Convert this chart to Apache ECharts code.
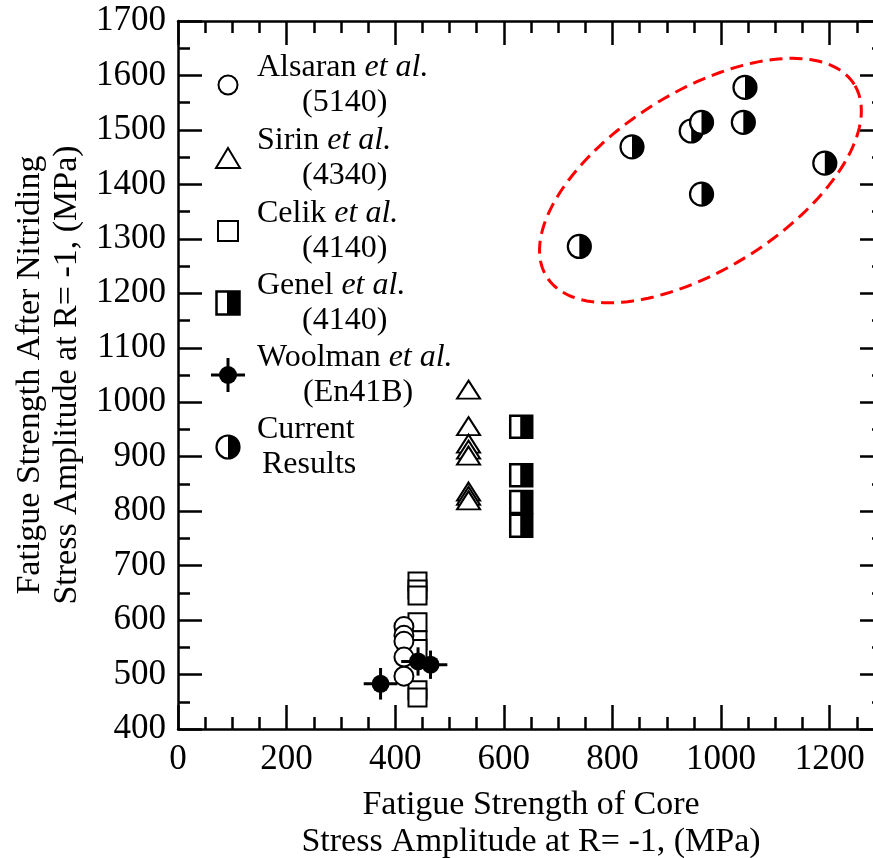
<!DOCTYPE html>
<html>
<head>
<meta charset="utf-8">
<script src="https://cdn.jsdelivr.net/npm/echarts@6/dist/echarts.min.js"></script>
<style>
  html, body { margin: 0; padding: 0; background: #fff; }
  #chart { width: 873px; height: 858px; }
</style>
</head>
<body>
<div id="chart"></div>
<script>
// Alsaran et al. (5140)
const alsaranX = [416, 416, 416, 416, 416];
const alsaranY = [588, 572, 561, 532, 497];
// Sirin et al. (4340)
const sirinX = [535, 535, 535, 535, 535, 535, 535, 535];
const sirinY = [1023, 956, 924, 913, 902, 836, 828, 820];
// Celik et al. (4140)
const celikX = [441, 441, 441, 441, 441, 441, 441, 441];
const celikY = [671, 656, 645, 596, 563, 547, 471, 458];
// Genel et al. (4140)
const genelX = [632, 632, 632, 632];
const genelY = [955, 866, 817, 773];
// Woolman et al. (En41B), with error bars
const woolmanX = [373, 442, 465];
const woolmanY = [483, 524, 518];
const woolmanErrX = [31, 31, 31];
const woolmanErrY = [29, 26, 26];
// Current results
const currentX = [739, 836, 945, 964, 964, 1041, 1044, 1191];
const currentY = [1286, 1469, 1498, 1514, 1382, 1514, 1578, 1439];
// dashed ellipse around current results (centre, semi axes in x units, tilt in degrees)
const ellipseCentre = [962, 1407];
const ellipseAxes = [334, 164];
const ellipseTilt = 32;

const FONT = 'Liberation Serif';
const zip = (xs, ys) => xs.map((x, i) => [x, ys[i]]);

function renderEllipse(params, api) {
  const c = api.coord([api.value(0), api.value(1)]);
  const k = api.size([1, 0])[0];
  const a = ellipseAxes[0] * k, b = ellipseAxes[1] * k;
  const t = ellipseTilt * Math.PI / 180;
  const pts = [];
  for (let i = 0; i <= 180; i++) {
    const u = i / 180 * 2 * Math.PI;
    const ex = a * Math.cos(u), ey = b * Math.sin(u);
    pts.push([c[0] + ex * Math.cos(t) - ey * Math.sin(t), c[1] - (ex * Math.sin(t) + ey * Math.cos(t))]);
  }
  return {
    type: 'polyline',
    shape: { points: pts },
    style: { fill: 'none', stroke: '#ff0000', lineWidth: 3, lineDash: [13, 7] }
  };
}

function halfCircle(cx, cy, r) {
  return [
    { type: 'circle', shape: { cx: cx, cy: cy, r: r }, style: { fill: '#fff', stroke: '#000', lineWidth: 2.2 } },
    { type: 'sector', shape: { cx: cx, cy: cy, r0: 0, r: r, startAngle: -Math.PI / 2, endAngle: Math.PI / 2 }, style: { fill: '#000' } }
  ];
}
function halfSquare(cx, cy, s) {
  return [
    { type: 'rect', shape: { x: cx - s / 2, y: cy - s / 2, width: s, height: s }, style: { fill: '#fff', stroke: '#000', lineWidth: 2.5 } },
    { type: 'rect', shape: { x: cx - 1, y: cy - s / 2, width: s / 2 + 1, height: s }, style: { fill: '#000' } }
  ];
}
function woolmanMark(cx, cy, l, r, t, b, rad) {
  return [
    { type: 'line', shape: { x1: l, y1: cy, x2: r, y2: cy }, style: { stroke: '#000', lineWidth: 3 } },
    { type: 'line', shape: { x1: cx, y1: t, x2: cx, y2: b }, style: { stroke: '#000', lineWidth: 3 } },
    { type: 'circle', shape: { cx: cx, cy: cy, r: rad }, style: { fill: '#000' } }
  ];
}

function renderCurrent(params, api) {
  const p = api.coord([api.value(0), api.value(1)]);
  return { type: 'group', children: halfCircle(p[0], p[1], 11.5) };
}
function renderGenel(params, api) {
  const p = api.coord([api.value(0), api.value(1)]);
  return { type: 'group', children: halfSquare(p[0], p[1], 22) };
}
function renderWoolman(params, api) {
  const x = api.value(0), y = api.value(1), ex = api.value(2), ey = api.value(3);
  const c = api.coord([x, y]);
  const l = api.coord([x - ex, y]), r = api.coord([x + ex, y]);
  const t = api.coord([x, y + ey]), b = api.coord([x, y - ey]);
  return { type: 'group', children: woolmanMark(c[0], c[1], l[0], r[0], t[1], b[1], 9) };
}

// legend block (drawn inside the plot)
const legendRows = [
  { name: 'Alsaran ', tail: '(5140)', tailX: 302 },
  { name: 'Sirin ', tail: '(4340)', tailX: 302 },
  { name: 'Celik ', tail: '(4140)', tailX: 302 },
  { name: 'Genel ', tail: '(4140)', tailX: 302 },
  { name: 'Woolman ', tail: '(En41B)', tailX: 303 },
  { name: 'Current', tail: 'Results', tailX: 262, plain: true }
];
const legendY = [85, 158, 231, 303, 375, 447];
const legendSymX = 228;

const graphics = [];
legendRows.forEach((row, i) => {
  const y = legendY[i];
  graphics.push({
    type: 'text', x: 257, y: y - 17, silent: true,
    style: {
      text: row.plain ? row.name : row.name + '{i|et al.}',
      fontFamily: FONT, fontSize: 32, fill: '#000',
      align: 'left', verticalAlign: 'middle',
      rich: { i: { fontFamily: FONT, fontSize: 32, fontStyle: 'italic', fill: '#000' } }
    }
  });
  graphics.push({
    type: 'text', x: row.tailX, y: y + 18, silent: true,
    style: { text: row.tail, fontFamily: FONT, fontSize: 32, fill: '#000', align: 'left', verticalAlign: 'middle' }
  });
});
const sx = legendSymX;
graphics.push({ type: 'circle', silent: true, shape: { cx: sx, cy: legendY[0], r: 9.5 }, style: { fill: '#fff', stroke: '#000', lineWidth: 2 } });
graphics.push({ type: 'polygon', silent: true, shape: { points: [[sx, legendY[1] - 10], [sx + 12, legendY[1] + 10], [sx - 12, legendY[1] + 10]] }, style: { fill: '#fff', stroke: '#000', lineWidth: 2 } });
graphics.push({ type: 'rect', silent: true, shape: { x: sx - 10, y: legendY[2] - 10, width: 20, height: 20 }, style: { fill: '#fff', stroke: '#000', lineWidth: 2 } });
graphics.push({ type: 'group', silent: true, children: halfSquare(sx, legendY[3], 23) });
graphics.push({ type: 'group', silent: true, children: woolmanMark(sx, legendY[4], sx - 17, sx + 17, legendY[4] - 17, legendY[4] + 17, 9) });
graphics.push({ type: 'group', silent: true, children: halfCircle(sx, legendY[5], 11.5) });

const axisLine = { show: true, onZero: false, lineStyle: { color: '#000', width: 2.5 } };
const tickStyle = { color: '#000', width: 2.5 };
const labelStyle = { color: '#000', fontFamily: FONT, fontSize: 35, formatter: v => String(v) };
const nameStyle = { color: '#000', fontFamily: FONT, fontSize: 34, lineHeight: 37 };

function xAx(pos, interval, len, extra) {
  return Object.assign({
    type: 'value', position: pos, min: 0, max: 1300, interval: interval,
    axisLine: len === 24 ? axisLine : { show: false },
    axisTick: { show: true, inside: true, length: len, lineStyle: tickStyle },
    axisLabel: { show: false },
    splitLine: { show: false }
  }, extra || {});
}

const chart = echarts.init(document.getElementById('chart'), null, { renderer: 'canvas' });
chart.setOption({
  animation: false,
  backgroundColor: '#fff',
  grid: { left: 178, top: 21, right: -11, bottom: 129, containLabel: false, outerBoundsMode: 'none' },
  xAxis: [
    xAx('bottom', 200, 24, {
      axisLabel: Object.assign({ show: true, margin: 13, showMaxLabel: false }, labelStyle),
      name: 'Fatigue Strength of Core\nStress Amplitude at R= -1, (MPa)',
      nameLocation: 'middle', nameGap: 58, nameTextStyle: nameStyle
    }),
    xAx('bottom', 50, 12),
    xAx('top', 200, 24),
    xAx('top', 50, 12)
  ],
  yAxis: [
    {
      type: 'value', position: 'left', min: 400, max: 1700, interval: 100,
      axisLine: axisLine,
      axisTick: { inside: true, length: 24, lineStyle: tickStyle },
      minorTick: { show: true, splitNumber: 2, length: 12, lineStyle: tickStyle },
      axisLabel: Object.assign({ margin: 12 }, labelStyle),
      splitLine: { show: false },
      name: 'Fatigue Strength After Nitriding\nStress Amplitude at R= -1, (MPa)',
      nameLocation: 'middle', nameGap: 88, nameRotate: 90, nameTextStyle: nameStyle
    },
    {
      type: 'value', position: 'right', min: 400, max: 1700, interval: 100,
      axisLine: axisLine,
      axisTick: { inside: true, length: 24, lineStyle: tickStyle },
      minorTick: { show: true, splitNumber: 2, length: 12, lineStyle: tickStyle },
      axisLabel: { show: false },
      splitLine: { show: false }
    }
  ],
  graphic: graphics,
  series: [
    {
      name: 'ellipse', type: 'custom', silent: true, renderItem: renderEllipse,
      data: [ellipseCentre], z: 1
    },
    {
      name: 'Celik et al. (4140)', type: 'scatter', symbol: 'rect', symbolSize: 18,
      itemStyle: { color: '#fff', borderColor: '#000', borderWidth: 2, opacity: 1 },
      data: zip(celikX, celikY), z: 2, silent: true
    },
    {
      name: 'Alsaran et al. (5140)', type: 'scatter', symbol: 'circle', symbolSize: 19,
      itemStyle: { color: '#fff', borderColor: '#000', borderWidth: 2, opacity: 1 },
      data: zip(alsaranX, alsaranY), z: 3, silent: true
    },
    {
      name: 'Sirin et al. (4340)', type: 'scatter', symbol: 'triangle', symbolSize: [23, 18],
      itemStyle: { color: '#fff', borderColor: '#000', borderWidth: 2, opacity: 1 },
      data: zip(sirinX, sirinY), z: 3, silent: true
    },
    {
      name: 'Genel et al. (4140)', type: 'custom', renderItem: renderGenel,
      data: zip(genelX, genelY), z: 3, silent: true
    },
    {
      name: 'Woolman et al. (En41B)', type: 'custom', renderItem: renderWoolman,
      data: woolmanX.map((x, i) => [x, woolmanY[i], woolmanErrX[i], woolmanErrY[i]]), z: 4, silent: true
    },
    {
      name: 'Current Results', type: 'custom', renderItem: renderCurrent,
      data: zip(currentX, currentY), z: 4, silent: true
    }
  ]
});
</script>
</body>
</html>
